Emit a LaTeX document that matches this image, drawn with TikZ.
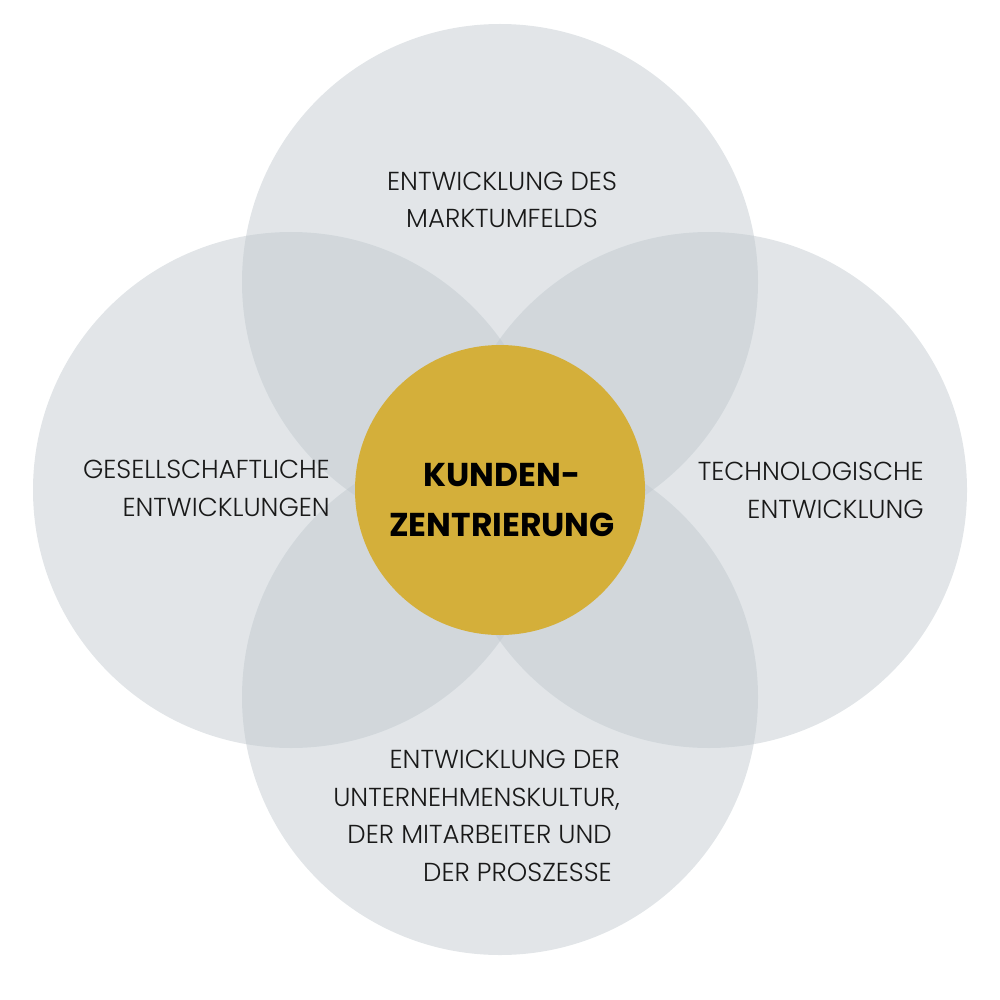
\documentclass[tikz,border=0pt]{standalone}
\usepackage{fontspec}
\setmainfont{Poppins}[UprightFont=* Light, BoldFont=* Bold]
\definecolor{Cercle}{HTML}{BEC6CC}
\definecolor{Centre}{HTML}{D4AF3A}

\begin{document}
\begin{tikzpicture}[x=1pt, y=-1pt,
  cercle/.style={fill=Cercle, fill opacity=0.45},
  theme/.style={font=\fontsize{26}{37.5}\selectfont, text=black!90, inner sep=0pt}]

  \useasboundingbox (0,0) rectangle (1000,1000);

  %%%%%%%%%% Points pour travailler %%%%%%%%%%
 \coordinate (M) at (500,490);
 \coordinate (haut) at (500,282);
 \coordinate (gauche) at (291,490);
 \coordinate (droite) at (709,490);
 \coordinate (bas) at (500,697);

 %%%%%%%%%% Cercles gris %%%%%%%%%%
 \fill [cercle] (haut) circle (258);
 \fill [cercle] (gauche) circle (258);
 \fill [cercle] (droite) circle (258);
 \fill [cercle] (bas) circle (258);

 %%%%%%%%%% Cercle central %%%%%%%%%%
 \fill [color=Centre] (M) circle (145);
 \node [font=\fontsize{33}{50}\selectfont\bfseries, align=center, inner sep=0pt, anchor=base] (kunden) at (502,536) {KUNDEN-\\ZENTRIERUNG};

 %%%%%%%%%%% Textes %%%%%%%%%%%
 \node [theme, align=center, anchor=base] (markt) at (502,228) {ENTWICKLUNG DES\\MARKTUMFELDS};
 \node [theme, align=right, anchor=base east] (gesell) at (330,516) {GESELLSCHAFTLICHE\\ENTWICKLUNGEN};
 \node [theme, align=right, anchor=base east] (techno) at (924,518) {TECHNOLOGISCHE\\ENTWICKLUNG};
 \node [theme, align=right, anchor=base east] (kultur) at (620,881) {ENTWICKLUNG DER\\UNTERNEHMENSKULTUR,\\DER MITARBEITER UND\rule{8pt}{0pt}\\DER PROSZESSE\rule{8pt}{0pt}};

\end{tikzpicture}
\end{document}
